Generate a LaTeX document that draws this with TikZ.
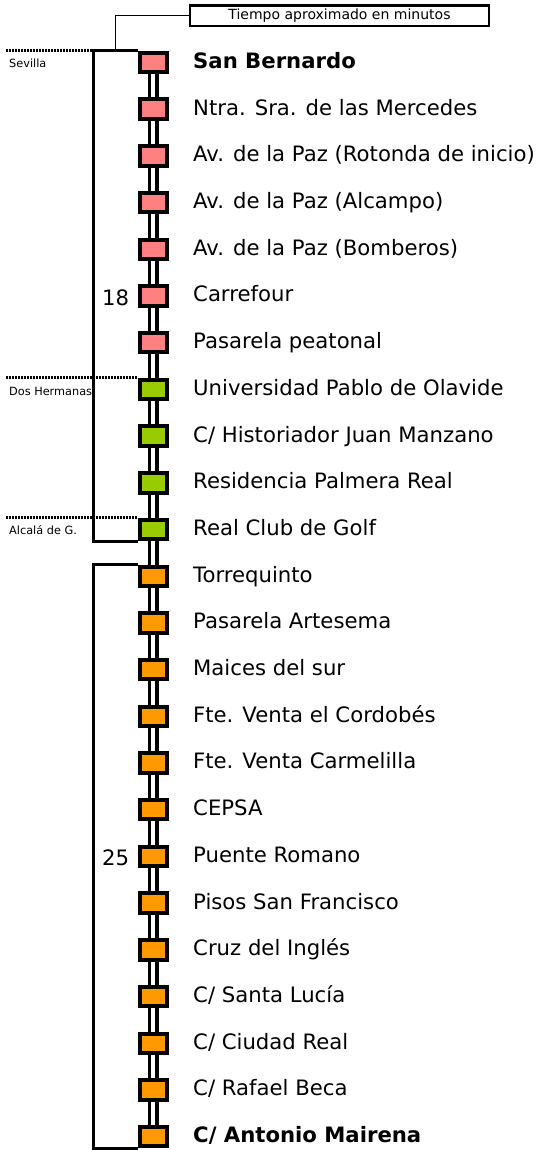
\documentclass[tikz,border=0pt]{standalone}
\usepackage{fontspec}
\setmainfont{DejaVu Sans}
\usetikzlibrary{positioning,calc}
\definecolor{Sevcol}{HTML}{FF8080}
\definecolor{Doscol}{HTML}{99CC00}
\definecolor{Alccol}{HTML}{FF9900}
\tikzstyle{rail}  = [line width=3.3pt, double=white, double distance=4pt]
\tikzstyle{brack} = [line width=3.3pt]
\tikzstyle{limit} = [line width=2.7pt, dash pattern=on 2pt off 1pt]
\tikzstyle{lead}  = [line width=1.2pt]
\tikzset{
  stop box/.style = {
    shape = rectangle,
    draw,
    line width = 4pt,
    outer sep = 2pt,
    inner sep = 0pt,
    minimum width = 27.3pt,
    minimum height = 19.4pt,
    },
  stopS/.style = {stop box, fill = Sevcol},
  stopD/.style = {stop box, fill = Doscol},
  stopA/.style = {stop box, fill = Alccol},
  stop name/.style = {
    font = \fontsize{21.2pt}{25pt}\selectfont,
    inner sep = 0pt,
    text height = 15.9pt,
    text depth = 4pt,
    },
  minutes/.style = {
    font = \fontsize{21.2pt}{25pt}\selectfont,
    inner sep = 0pt,
    text height = 18.5pt,
    text depth = 0pt,
    },
  town/.style = {
    font = \fontsize{11.3pt}{13pt}\selectfont,
    inner sep = 0pt,
    anchor = base west,
    },
  time box/.style = {
    draw,
    line width = 2.7pt,
    inner sep = 0pt,
    minimum width = 299pt,
    minimum height = 20.6pt,
    font = \fontsize{14pt}{16pt}\selectfont,
    }
}

\begin{document}
\begin{tikzpicture}[x=1pt,y=-1pt]
    \useasboundingbox (0,0) rectangle (538,1150);

    % Sevilla
    \node [stopS] (sber) at (153.35,62.5) {};
    \node [stopS, below=23.3pt of sber] (merc) {};
    \node [stopS, below=23.3pt of merc] (roto) {};
    \node [stopS, below=23.3pt of roto] (alca) {};
    \node [stopS, below=23.3pt of alca] (bomb) {};
    \node [stopS, below=23.3pt of bomb] (carr) {};
    \node [stopS, below=23.3pt of carr] (pasa) {};

    % Dos Hermanas
    \node [stopD, below=23.3pt of pasa] (upo) {};
    \node [stopD, below=23.3pt of upo] (hist) {};
    \node [stopD, below=23.3pt of hist] (resi) {};
    \node [stopD, below=23.3pt of resi] (golf) {};

    % Alcala
    \node [stopA, below=23.3pt of golf] (torr) {};
    \node [stopA, below=23.3pt of torr] (arte) {};
    \node [stopA, below=23.3pt of arte] (maic) {};
    \node [stopA, below=23.3pt of maic] (cord) {};
    \node [stopA, below=23.3pt of cord] (carm) {};
    \node [stopA, below=23.3pt of carm] (cepsa) {};
    \node [stopA, below=23.3pt of cepsa] (roma) {};
    \node [stopA, below=23.3pt of roma] (pisos) {};
    \node [stopA, below=23.3pt of pisos] (cruz) {};
    \node [stopA, below=23.3pt of cruz] (luc) {};
    \node [stopA, below=23.3pt of luc] (creal) {};
    \node [stopA, below=23.3pt of creal] (beca) {};
    \node [stopA, below=23.3pt of beca] (mai) {};

    % names
    \node [stop name, right=24pt of sber] (n-sber) {\textbf{San Bernardo}};
    \node [stop name, right=24pt of merc] (n-merc) {Ntra. Sra. de las Mercedes};
    \node [stop name, right=24pt of roto] (n-roto) {Av. de la Paz (Rotonda de inicio)};
    \node [stop name, right=24pt of alca] (n-alca) {Av. de la Paz (Alcampo)};
    \node [stop name, right=24pt of bomb] (n-bomb) {Av. de la Paz (Bomberos)};
    \node [stop name, right=24pt of carr] (n-carr) {Carrefour};
    \node [stop name, right=24pt of pasa] (n-pasa) {Pasarela peatonal};
    \node [stop name, right=24pt of upo] (n-upo) {Universidad Pablo de Olavide};
    \node [stop name, right=24pt of hist] (n-hist) {C/ Historiador Juan Manzano};
    \node [stop name, right=24pt of resi] (n-resi) {Residencia Palmera Real};
    \node [stop name, right=24pt of golf] (n-golf) {Real Club de Golf};
    \node [stop name, right=24pt of torr] (n-torr) {Torrequinto};
    \node [stop name, right=24pt of arte] (n-arte) {Pasarela Artesema};
    \node [stop name, right=24pt of maic] (n-maic) {Maices del sur};
    \node [stop name, right=24pt of cord] (n-cord) {Fte. Venta el Cordobés};
    \node [stop name, right=24pt of carm] (n-carm) {Fte. Venta Carmelilla};
    \node [stop name, right=24pt of cepsa] (n-cepsa) {CEPSA};
    \node [stop name, right=24pt of roma] (n-roma) {Puente Romano};
    \node [stop name, right=24pt of pisos] (n-pisos) {Pisos San Francisco};
    \node [stop name, right=24pt of cruz] (n-cruz) {Cruz del Inglés};
    \node [stop name, right=24pt of luc] (n-luc) {C/ Santa Lucía};
    \node [stop name, right=24pt of creal] (n-creal) {C/ Ciudad Real};
    \node [stop name, right=24pt of beca] (n-beca) {C/ Rafael Beca};
    \node [stop name, right=24pt of mai] (n-mai) {\textbf{C/ Antonio Mairena}};

    % minutes
    \node [minutes, left=8.5pt of carr] (m18) {18};
    \node [minutes, left=8.5pt of roma] (m25) {25};
    \node [time box] (tiempo) at (339.5,15.6) {Tiempo aproximado en minutos};

    % towns
    \coordinate (edge) at (6,0);
    \coordinate (brk1) at ($(sber.north west)+(-44.5,0)$);
    \coordinate (brk2) at ($(torr.north west)+(-44.5,0)$);
    \draw[limit] (edge |- sber.north west) -- (brk1);
    \draw[limit] (edge |- upo.north west) -- (upo.north west);
    \draw[limit] (edge |- golf.north west) -- (golf.north west);
    \node [town] (t-sev) at ($(edge |- sber.north west)+(3,17)$) {Sevilla};
    \node [town] (t-dos) at ($(edge |- upo.north west)+(3,18)$) {Dos Hermanas};
    \node [town] (t-alc) at ($(edge |- golf.north west)+(3,17)$) {Alcalá de G.};

    % Paths
    \draw[rail] (sber) -- (merc);
    \draw[rail] (merc) -- (roto);
    \draw[rail] (roto) -- (alca);
    \draw[rail] (alca) -- (bomb);
    \draw[rail] (bomb) -- (carr);
    \draw[rail] (carr) -- (pasa);
    \draw[rail] (pasa) -- (upo);
    \draw[rail] (upo) -- (hist);
    \draw[rail] (hist) -- (resi);
    \draw[rail] (resi) -- (golf);
    \draw[rail] (golf) -- (torr);
    \draw[rail] (torr) -- (arte);
    \draw[rail] (arte) -- (maic);
    \draw[rail] (maic) -- (cord);
    \draw[rail] (cord) -- (carm);
    \draw[rail] (carm) -- (cepsa);
    \draw[rail] (cepsa) -- (roma);
    \draw[rail] (roma) -- (pisos);
    \draw[rail] (pisos) -- (cruz);
    \draw[rail] (cruz) -- (luc);
    \draw[rail] (luc) -- (creal);
    \draw[rail] (creal) -- (beca);
    \draw[rail] (beca) -- (mai);

    \draw[brack] (sber.north west) -- (brk1) |- (golf.south west);
    \draw[brack] (torr.north west) -- (brk2) |- (mai.south west);
    \draw[lead] (tiempo.west) -| ($(brk1)!.5!(sber.north west)$);

\end{tikzpicture}
\end{document}
